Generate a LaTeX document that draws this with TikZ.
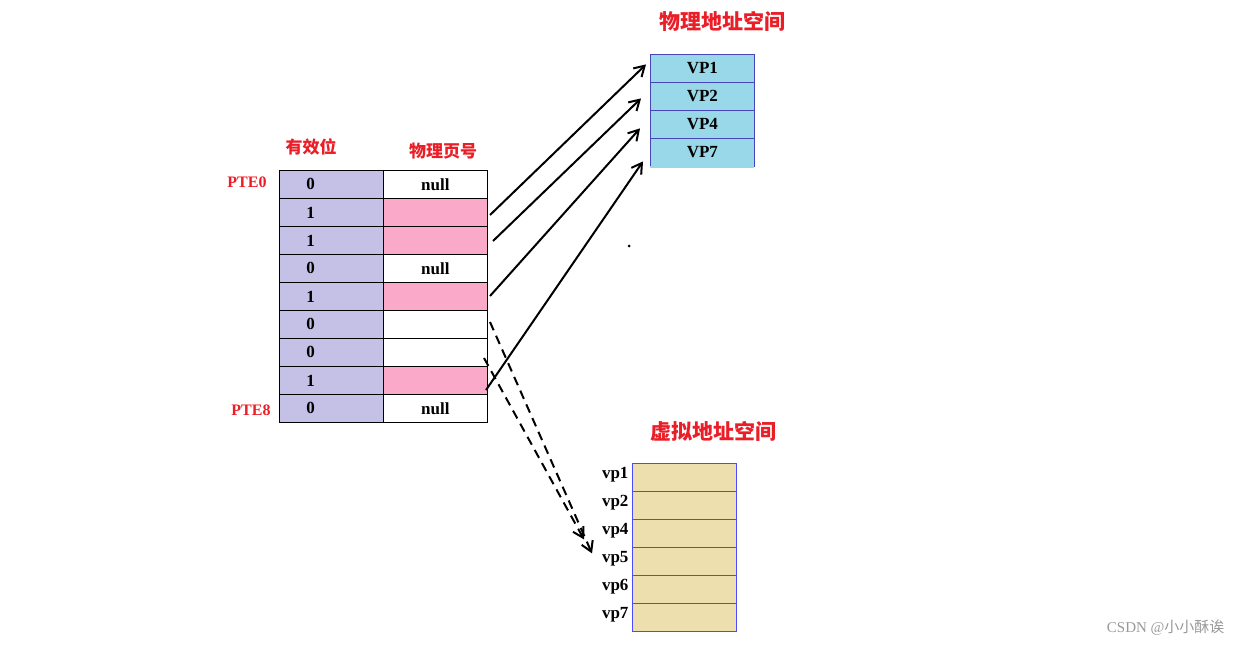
\documentclass[tikz,border=0pt]{standalone}
\usepackage{fontspec}
\setmainfont{Liberation Serif}
\newfontfamily\cjk{Noto Sans CJK SC}
\usetikzlibrary{arrows.meta}
\definecolor{validc}{RGB}{197,192,230}
\definecolor{pinkc}{RGB}{250,170,200}
\definecolor{physc}{RGB}{152,216,232}
\definecolor{virtc}{RGB}{238,224,174}
\definecolor{titlec}{RGB}{235,30,40}
\begin{document}
\begin{tikzpicture}[x=1pt,y=-1pt,
  cell/.style={draw, minimum width=104pt, minimum height=28pt, inner sep=0pt, anchor=north west, font=\bfseries\fontsize{17}{17}\selectfont},
  vcell/.style={cell, fill=validc, draw=black, line width=0.8pt, text width=104pt, align=left},
  pcell/.style={cell, draw=black, line width=0.8pt},
  phys/.style={cell, fill=physc, draw=blue!45!gray, line width=0.8pt},
  virt/.style={cell, fill=virtc, draw=blue!70, line width=0.8pt},
  title/.style={text=titlec, font=\cjk\bfseries\fontsize{21}{21}\selectfont},
  head/.style={text=titlec, font=\cjk\bfseries\fontsize{17}{17}\selectfont},
  pte/.style={text=titlec, font=\bfseries\fontsize{16}{16}\selectfont},
  lab/.style={font=\bfseries\fontsize{17}{17}\selectfont},
  arr/.style={line width=2pt, -{Straight Barb[length=10pt,width=12pt]}},
  darr/.style={arr, dash pattern=on 9pt off 6pt}]
\useasboundingbox (0,0) rectangle (1241,646);

% page table
\foreach \i/\v/\p/\f in {0/0/null/white,1/1//pinkc,2/1//pinkc,3/0/null/white,4/1//pinkc,5/0//white,6/0//white,7/1//pinkc,8/0/null/white}{
  \node[vcell] (v\i) at (279,{170+28*\i}) {\hspace*{27pt}\v};
  \node[pcell, fill=\f] (p\i) at (383,{170+28*\i}) {\p};
}
\node[head] (h1) at (311,147) {有效位};
\node[head] (h2) at (443,151) {物理页号};
\node[pte] (pte0) at (247,182) {PTE0};
\node[pte] (pte8) at (251,410) {PTE8};

% physical address space
\node[title] (tp) at (722,21) {物理地址空间};
\foreach \i/\t in {0/VP1,1/VP2,2/VP4,3/VP7}{
  \node[phys] (f\i) at (650,{54+28*\i}) {\t};
}
\fill[physc] (650.4,166) rectangle (753.6,168);

% virtual address space
\node[title] (tv) at (713,431) {虚拟地址空间};
\foreach \i/\t in {0/vp1,1/vp2,2/vp4,3/vp5,4/vp6,5/vp7}{
  \node[virt] (g\i) at (632,{463+28*\i}) {};
  \node[lab, anchor=east] (gl\i) at ([xshift=0pt,yshift=3pt]g\i.west) {\t};
}

% mappings
\coordinate (e1) at (490,215); \coordinate (e2) at (493,241);
\coordinate (e4) at (490,296); \coordinate (e7) at (486,390);
\coordinate (s5) at (490,322); \coordinate (s6) at (484,358);
\draw[arr] (e1) -- ([xshift=-4pt,yshift=4pt]f0.west);
\draw[arr] (e2) -- ([xshift=-9pt,yshift=-2pt]f1.west);
\draw[arr] (e4) -- ([xshift=-10pt,yshift=-4pt]f2.west);
\draw[arr] (e7) -- ([xshift=-7pt,yshift=-9pt]f3.west);
\draw[darr] (s5) -- ([xshift=-40pt,yshift=8pt]g3.west);
\draw[darr] (s6) -- ([xshift=-48pt,yshift=22pt]g3.west);
\fill (629,246) circle (1.5pt);

\node[text=gray!80, font=\fontsize{15}{15}\selectfont, anchor=east] (wm) at (1228,628) {CSDN @{\cjk 小小酥诶}};
\end{tikzpicture}
\end{document}
